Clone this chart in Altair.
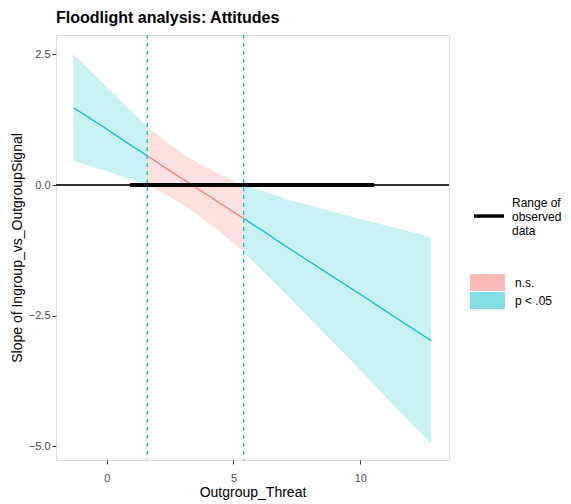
import altair as alt
import pandas as pd

# Moderator values and simple-slope estimates
mod_x = [-1.31, 0.0, 0.8, 1.6, 2.5, 3.4, 4.5, 5.4, 6.2, 7.0, 9.0, 10.0, 11.0, 12.8]
slope = [1.48, 1.07, 0.81, 0.56, 0.27, -0.01, -0.36, -0.64, -0.89, -1.15, -1.78, -2.09, -2.41, -2.98]
lower = [0.46, 0.27, 0.13, 0.00, -0.23, -0.50, -0.91, -1.28, -1.67, -2.05, -3.04, -3.54, -4.05, -4.96]
upper = [2.50, 1.87, 1.49, 1.12, 0.77, 0.48, 0.19, 0.00, -0.12, -0.26, -0.52, -0.65, -0.77, -1.00]

jn_points = [1.6, 5.4]          # Johnson-Neyman bounds
observed_range = [0.92, 10.55]  # range of observed moderator data
sig_labels = ["n.s.", "p < .05"]
sig_colors = ["#F8766D", "#00BFC4"]
x_ticks = [0, 5, 10]
y_ticks = [-5.0, -2.5, 0.0, 2.5]

rows = []
for xv, m, lo, up in zip(mod_x, slope, lower, upper):
    if xv <= jn_points[0]:
        rows.append(dict(x=xv, m=m, lo=lo, up=up, sig="p < .05", seg="a"))
    if jn_points[0] <= xv <= jn_points[1]:
        rows.append(dict(x=xv, m=m, lo=lo, up=up, sig="n.s.", seg="b"))
    if xv >= jn_points[1]:
        rows.append(dict(x=xv, m=m, lo=lo, up=up, sig="p < .05", seg="c"))
df = pd.DataFrame(rows)

range_df = pd.DataFrame({"lo": [observed_range[0]], "hi": [observed_range[1]],
                         "y": [0.0], "lab": ["Range of observed data"]})
jn_df = pd.DataFrame({"x": jn_points})

FONT = "Liberation Sans"
xs = alt.Scale(domain=[-2.0, 13.5], nice=False, zero=False)
ys = alt.Scale(domain=[-5.26, 2.87], nice=False, zero=False)

x_axis = alt.Axis(values=x_ticks, format="d", title="Outgroup_Threat", grid=False, domain=False,
                  tickSize=4, tickColor="#333333", labelColor="#4D4D4D", labelFontSize=11,
                  labelPadding=8, titleFontSize=14, titleFontWeight="normal", titleColor="black",
                  titlePadding=2, labelFont=FONT, titleFont=FONT)
y_axis = alt.Axis(values=y_ticks, format=".1f", title="Slope of Ingroup_vs_OutgroupSignal",
                  grid=False, domain=False, tickSize=4, tickColor="#333333", labelColor="#4D4D4D",
                  labelFontSize=11, labelPadding=2, titleFontSize=14, titleFontWeight="normal",
                  titleColor="black", titlePadding=4, labelFont=FONT, titleFont=FONT)

fill_scale = alt.Scale(domain=sig_labels, range=sig_colors)

band = alt.Chart(df).mark_area(opacity=0.22).encode(
    x=alt.X("x:Q", scale=xs, axis=x_axis),
    y=alt.Y("lo:Q", scale=ys, axis=y_axis),
    y2="up:Q",
    fill=alt.Fill("sig:N", scale=fill_scale,
                  legend=alt.Legend(title=None, orient="none", legendX=423, legendY=239,
                                    symbolType="M-2.06,-1H2.06V1H-2.06Z", symbolSize=289,
                                    symbolOpacity=0.5, symbolStrokeWidth=0, labelFontSize=12,
                                    labelFont=FONT, labelColor="black", labelOffset=19,
                                    rowPadding=1)),
    detail="seg:N",
)

line = alt.Chart(df).mark_line(strokeWidth=1.2).encode(
    x="x:Q", y="m:Q",
    color=alt.Color("sig:N", scale=fill_scale, legend=None),
    detail="seg:N",
)

zero = alt.Chart(df).mark_rule(color="#333333", strokeWidth=1).encode(y=alt.datum(0))

obs = alt.Chart(range_df).mark_rule(strokeWidth=4).encode(
    x="lo:Q", x2="hi:Q", y="y:Q",
    stroke=alt.Stroke("lab:N", scale=alt.Scale(domain=["Range of observed data"], range=["black"]),
                      legend=alt.Legend(title=None, orient="none", legendX=416, legendY=151,
                                        symbolType="M-1,0.87H1", symbolSize=900, symbolStrokeWidth=3.5,
                                        labelExpr="['Range of','observed','data']",
                                        labelFontSize=12, labelFont=FONT, labelColor="black",
                                        labelOffset=6)),
)

vlines = alt.Chart(jn_df).mark_rule(color="#00BFC4", strokeDash=[4, 4], strokeWidth=1.2).encode(x="x:Q")

chart = alt.layer(band, line, zero, obs, vlines).properties(
    width=393, height=425,
    title=alt.TitleParams("Floodlight analysis: Attitudes", anchor="start", frame="group",
                          fontSize=16, fontWeight="bold", font=FONT, color="black", offset=8),
    autosize=alt.AutoSizeParams(type="none"),
    padding={"left": 56, "top": 35, "right": 122, "bottom": 44},
).configure_view(stroke="#7F7F7F", strokeWidth=1).configure(background="white")

chart.save("out.html", embed_options={"renderer": "svg", "actions": False})
